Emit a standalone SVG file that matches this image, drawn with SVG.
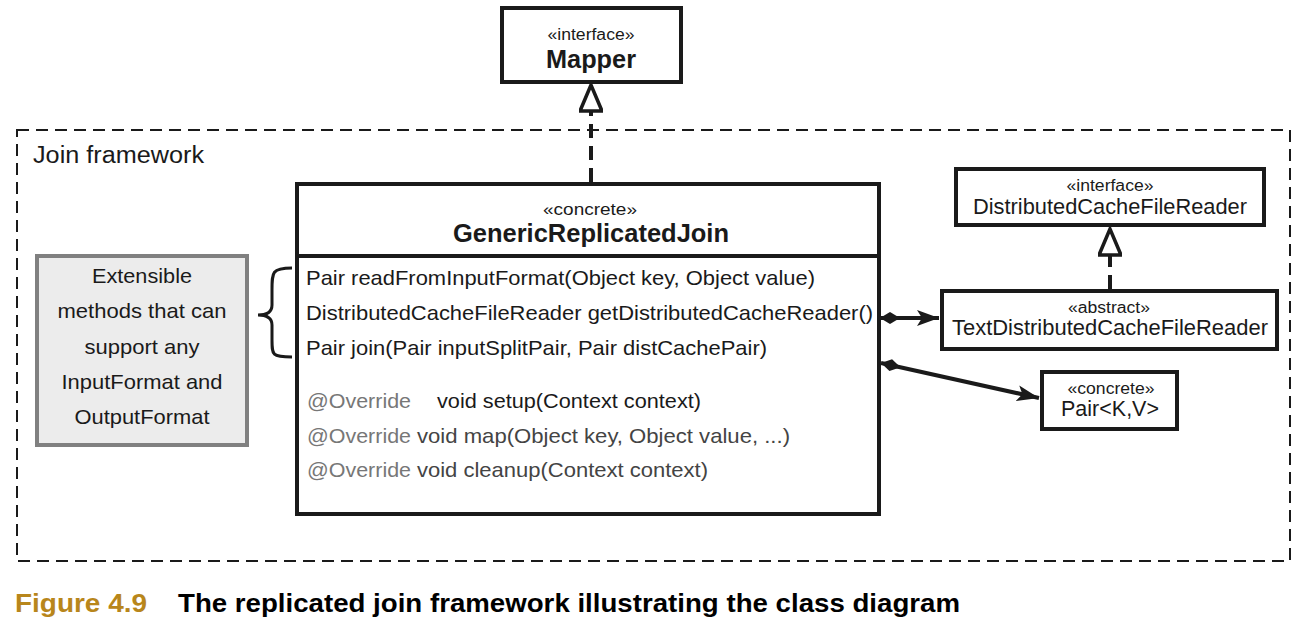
<svg xmlns="http://www.w3.org/2000/svg" width="1307" height="642" viewBox="0 0 1307 642">
<defs>
<style>
text{font-family:"Liberation Sans",Arial,sans-serif;fill:#1a1a1a}
.box{fill:#fff;stroke:#1a1a1a;stroke-width:4}
.st{font-size:16px;text-anchor:middle}
.nm{font-size:25.5px;font-weight:bold;text-anchor:middle}
.nm2{font-size:21.5px;text-anchor:middle}
.m{font-size:21px}
.g{fill:#777}
.note{font-size:21px;text-anchor:middle}
.conn{stroke:#1a1a1a;stroke-width:4;fill:none}
.dash{stroke:#1a1a1a;stroke-width:4;fill:none;stroke-dasharray:14,8}
</style>
<marker id="tri" viewBox="0 0 30 24" refX="28" refY="12" markerWidth="30" markerHeight="24" markerUnits="userSpaceOnUse" orient="auto">
<path d="M28,12 L2,1 L2,23 Z" fill="#fff" stroke="#1a1a1a" stroke-width="3.5"/>
</marker>
<marker id="arr" viewBox="0 0 22 16" refX="22" refY="8" markerWidth="22" markerHeight="16" markerUnits="userSpaceOnUse" orient="auto">
<path d="M22,8 L0,0 L5,8 L0,16 Z" fill="#1a1a1a"/>
</marker>
<marker id="dia" viewBox="0 0 20 12" refX="0" refY="6" markerWidth="20" markerHeight="12" markerUnits="userSpaceOnUse" orient="auto">
<path d="M0,6 L10,0 L20,6 L10,12 Z" fill="#1a1a1a"/>
</marker>
</defs>
<rect width="1307" height="642" fill="#fff"/>
<g id="frame">
<rect x="17" y="130" width="1273" height="431" fill="none" stroke="#1a1a1a" stroke-width="2" stroke-dasharray="12,7"/>
<text x="33" y="163" font-size="23px" textLength="171" lengthAdjust="spacingAndGlyphs">Join framework</text>
</g>
<g id="connectors">
<line class="dash" x1="591" y1="182" x2="591" y2="85" marker-end="url(#tri)"/>
<line class="dash" x1="1110" y1="289" x2="1110" y2="229" marker-end="url(#tri)"/>
<line class="conn" x1="880" y1="318" x2="939" y2="318" marker-start="url(#dia)" marker-end="url(#arr)"/>
<line class="conn" x1="881" y1="363" x2="1039" y2="398" marker-start="url(#dia)" marker-end="url(#arr)"/>
<path d="M292,268 C272,268 272,272 272,290 L272,305 C272,312 267,315 258,315 C267,315 272,318 272,325 L272,340 C272,355 272,357 292,357" fill="none" stroke="#1a1a1a" stroke-width="3"/>
</g>
<g id="mapper">
<rect class="box" x="502" y="8" width="179" height="74"/>
<text class="st" x="591" y="40" textLength="87" lengthAdjust="spacingAndGlyphs">«interface»</text>
<text class="nm" x="591" y="68" textLength="90" lengthAdjust="spacingAndGlyphs">Mapper</text>
</g>
<g id="genericReplicatedJoin">
<rect class="box" x="297" y="184" width="582" height="330"/>
<line x1="297" y1="256" x2="879" y2="256" stroke="#1a1a1a" stroke-width="4"/>
<text class="st" x="590" y="215" textLength="94" lengthAdjust="spacingAndGlyphs">«concrete»</text>
<text class="nm" x="591" y="242" textLength="276" lengthAdjust="spacingAndGlyphs">GenericReplicatedJoin</text>
<text class="m" x="306" y="285" textLength="509" lengthAdjust="spacingAndGlyphs">Pair readFromInputFormat(Object key, Object value)</text>
<text class="m" x="306" y="320" textLength="567" lengthAdjust="spacingAndGlyphs">DistributedCacheFileReader getDistributedCacheReader()</text>
<text class="m" x="306" y="355" textLength="461" lengthAdjust="spacingAndGlyphs">Pair join(Pair inputSplitPair, Pair distCachePair)</text>
<text class="m g" x="307" y="408" textLength="104" lengthAdjust="spacingAndGlyphs">@Override</text>
<text class="m" x="437" y="408" textLength="264" lengthAdjust="spacingAndGlyphs">void setup(Context context)</text>
<text class="m g" x="307" y="443" textLength="104" lengthAdjust="spacingAndGlyphs">@Override</text>
<text class="m" x="417" y="443" fill="#444" style="fill:#444" textLength="373" lengthAdjust="spacingAndGlyphs">void map(Object key, Object value, ...)</text>
<text class="m g" x="307" y="477" textLength="104" lengthAdjust="spacingAndGlyphs">@Override</text>
<text class="m" x="417" y="477" style="fill:#444" textLength="291" lengthAdjust="spacingAndGlyphs">void cleanup(Context context)</text>
</g>
<g id="note">
<rect x="37" y="256" width="210" height="189" fill="#ececec" stroke="#808080" stroke-width="4"/>
<text class="note" x="142" y="283" textLength="100" lengthAdjust="spacingAndGlyphs">Extensible</text>
<text class="note" x="142" y="318" textLength="169" lengthAdjust="spacingAndGlyphs">methods that can</text>
<text class="note" x="142" y="354" textLength="115" lengthAdjust="spacingAndGlyphs">support any</text>
<text class="note" x="142" y="389" textLength="161" lengthAdjust="spacingAndGlyphs">InputFormat and</text>
<text class="note" x="142" y="424" textLength="135" lengthAdjust="spacingAndGlyphs">OutputFormat</text>
</g>
<g id="distributedCacheFileReader">
<rect class="box" x="956" y="169" width="308" height="56"/>
<text class="st" x="1110" y="191" textLength="87" lengthAdjust="spacingAndGlyphs">«interface»</text>
<text class="nm2" x="1110" y="214" textLength="274" lengthAdjust="spacingAndGlyphs">DistributedCacheFileReader</text>
</g>
<g id="textDistributedCacheFileReader">
<rect class="box" x="942" y="291" width="335" height="58"/>
<text class="st" x="1109" y="313" textLength="82" lengthAdjust="spacingAndGlyphs">«abstract»</text>
<text class="nm2" x="1110" y="335" textLength="316" lengthAdjust="spacingAndGlyphs">TextDistributedCacheFileReader</text>
</g>
<g id="pair">
<rect class="box" x="1042" y="372" width="135" height="57"/>
<text class="st" x="1111" y="394" textLength="87" lengthAdjust="spacingAndGlyphs">«concrete»</text>
<text class="nm2" x="1110" y="416" textLength="98" lengthAdjust="spacingAndGlyphs">Pair&lt;K,V&gt;</text>
</g>
<g id="caption">
<text x="15" y="612" font-size="25px" font-weight="bold" style="fill:#b8861b" textLength="132" lengthAdjust="spacingAndGlyphs">Figure 4.9</text>
<text x="178" y="612" font-size="25px" font-weight="bold" style="fill:#000" textLength="782" lengthAdjust="spacingAndGlyphs">The replicated join framework illustrating the class diagram</text>
</g>
</svg>
